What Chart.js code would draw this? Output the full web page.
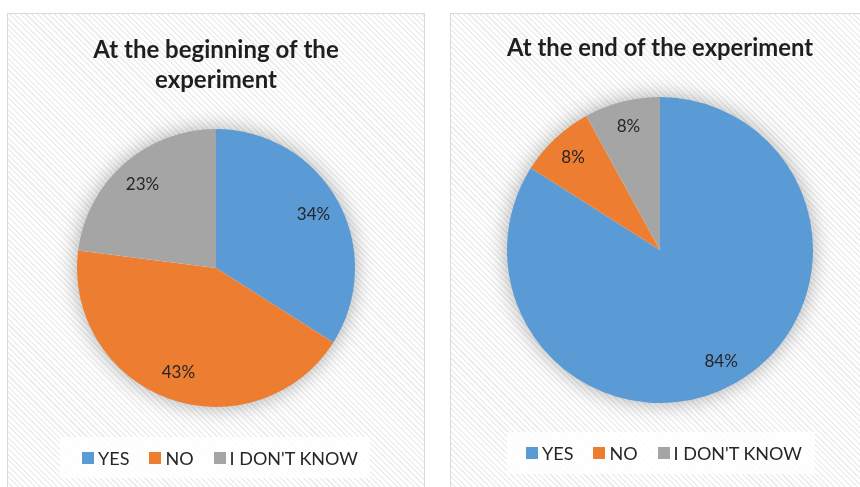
<!DOCTYPE html>
<html>
<head>
<meta charset="utf-8">
<script src="https://cdn.jsdelivr.net/npm/chart.js@4.4.1/dist/chart.umd.min.js"></script>
<style>
    body { margin: 0; width: 860px; height: 487px; background: #fff; overflow: hidden; position: relative; font-family: Lato, "Open Sans", sans-serif; }
    .panel {
        position: absolute;
        border: 1px solid #d9d9d9;
        background: repeating-linear-gradient(45deg, #ffffff 0px, #ffffff 2.5px, #eeeeee 2.5px, #eeeeee 4px);
    }
    .panel canvas { position: absolute; left: 0; top: 0; }
    .legend {
        position: absolute;
        background: rgba(255, 255, 255, 0.82);
        display: flex;
        align-items: center;
        font-size: 18px;
        color: #262626;
        white-space: nowrap;
        box-sizing: border-box;
    }
    .legend span.item { display: flex; align-items: center; margin-right: 20px; }
    .legend span.box { width: 12px; height: 12px; margin-right: 4px; display: inline-block; }
</style>
</head>
<body>
<div class="panel" id="p1" style="left:7px; top:13px; width:416px; height:490px;">
    <canvas id="chart1" width="416" height="473"></canvas>
    <div class="legend" id="legend1" style="left:52px; top:423px; width:310px; height:41px; padding-left:22px;"></div>
</div>
<div class="panel" id="p2" style="left:450px; top:13px; width:420px; height:490px;">
    <canvas id="chart2" width="409" height="473"></canvas>
    <div class="legend" id="legend2" style="left:56px; top:418px; width:308px; height:42px; padding-left:19px;"></div>
</div>
<script>
const categories = ['YES', 'NO', "I DON'T KNOW"];
const beginValues = [34, 43, 23];
const endValues = [84, 8, 8];
const colors = ['#5B9BD5', '#ED7D31', '#A5A5A5'];
const titleBegin = ['At the beginning of the', 'experiment'];
const titleEnd = 'At the end of the experiment';

// soft glow under the pie
const pieShadow = {
    id: 'pieShadow',
    beforeDatasetsDraw(chart) {
        const arc = chart.getDatasetMeta(0).data[0];
        if (!arc) return;
        const ctx = chart.ctx;
        ctx.save();
        ctx.shadowColor = 'rgba(0,0,0,0.35)';
        ctx.shadowBlur = 22;
        ctx.fillStyle = '#ffffff';
        ctx.beginPath();
        ctx.arc(arc.x, arc.y, arc.outerRadius - 1, 0, Math.PI * 2);
        ctx.fill();
        ctx.restore();
    }
};

// percent labels inside slices
const sliceLabels = {
    id: 'sliceLabels',
    afterDatasetsDraw(chart, args, opts) {
        const ctx = chart.ctx;
        const meta = chart.getDatasetMeta(0);
        const values = chart.data.datasets[0].data;
        ctx.save();
        ctx.font = '17px Lato, "Open Sans", sans-serif';
        ctx.fillStyle = '#262626';
        ctx.textAlign = 'center';
        ctx.textBaseline = 'middle';
        meta.data.forEach((arc, i) => {
            const mid = (arc.startAngle + arc.endAngle) / 2;
            const r = arc.outerRadius * opts.radius;
            ctx.fillText(values[i] + '%', arc.x + Math.cos(mid) * r, arc.y + Math.sin(mid) * r);
        });
        ctx.restore();
    }
};

function makePie(canvasId, values, title, titlePad, layoutPad, labelRadius) {
    return new Chart(document.getElementById(canvasId), {
        type: 'pie',
        data: {
            labels: categories,
            datasets: [{
                data: values,
                backgroundColor: colors,
                borderWidth: 0
            }]
        },
        options: {
            responsive: false,
            animation: false,
            layout: { padding: layoutPad },
            plugins: {
                legend: { display: false },
                tooltip: { enabled: false },
                title: {
                    display: true,
                    text: title,
                    color: '#1f1f1f',
                    font: { family: 'Lato, "Open Sans", sans-serif', size: 24, weight: 'bold', lineHeight: '30px' },
                    padding: titlePad
                },
                sliceLabels: { radius: labelRadius }
            }
        },
        plugins: [pieShadow, sliceLabels]
    });
}

function buildLegend(id) {
    const el = document.getElementById(id);
    categories.forEach((name, i) => {
        const item = document.createElement('span');
        item.className = 'item';
        const box = document.createElement('span');
        box.className = 'box';
        box.style.background = colors[i];
        item.appendChild(box);
        item.appendChild(document.createTextNode(name));
        el.appendChild(item);
    });
}

makePie('chart1', beginValues, titleBegin, { top: 21, bottom: 29 }, { left: 69, right: 69, top: 0, bottom: 75 }, 0.8);
makePie('chart2', endValues, titleEnd, { top: 19, bottom: 31 }, { left: 56, right: 47, top: 0, bottom: 81 }, 0.83);
buildLegend('legend1');
buildLegend('legend2');
</script>
</body>
</html>
